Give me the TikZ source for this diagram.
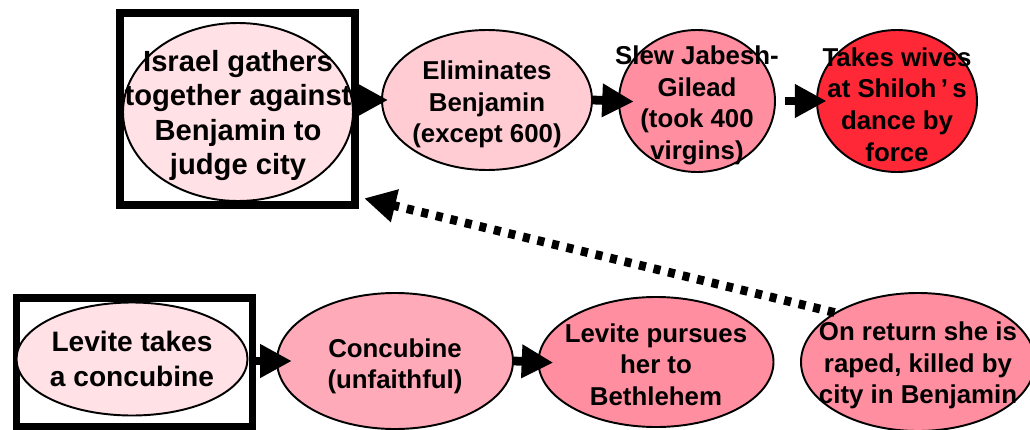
\documentclass[tikz,border=0pt]{standalone}
\usepackage{fontspec}
\setmainfont{Liberation Sans}
\usetikzlibrary{arrows.meta,shapes.geometric}
\definecolor{PINK-PALE}{RGB}{255,225,230}
\definecolor{PINK-LIGHT}{RGB}{255,204,212}
\definecolor{PINK-MID}{RGB}{255,170,184}
\definecolor{PINK-DEEP}{RGB}{255,143,160}
\definecolor{RED-HOT}{RGB}{255,40,55}

\tikzset{
  event/.style={ellipse, draw=black, line width=1.1pt, inner sep=0pt},
  caption/.style={align=center, font=\fontsize{14.7}{18}\selectfont\bfseries},
  keybox/.style={draw=black, line width=4.4pt, inner sep=0pt},
  flow/.style={line width=5pt, -{Triangle[length=18pt,width=18pt]}},
}

\begin{document}
\begin{tikzpicture}[x=0.2mm,y=-0.2mm]
  \useasboundingbox (0,0) rectangle (1030,429);

  % Top row (Israel against Benjamin)
  \node[keybox, minimum width=47mm, minimum height=38.4mm] (gatherbox) at (237.5,109) {};
  \node[event, fill=PINK-PALE, minimum width=46mm, minimum height=35.6mm] (gather) at (238,112) {};
  \node[caption, font=\fontsize{16.6}{19.5}\selectfont\bfseries] (gather-t) at ([yshift=-2pt]gather) {Israel gathers\\together against\\Benjamin to\\judge city};

  \node[event, fill=PINK-LIGHT, minimum width=42mm, minimum height=28mm] (elim) at (487,100) {};
  \node[caption] (elim-t) at ([yshift=-2.5pt]elim) {Eliminates\\Benjamin\\(except 600)};

  \node[event, fill=PINK-DEEP, minimum width=31.2mm, minimum height=28.4mm] (slew) at (697,101) {};
  \node[caption] (slew-t) at ([yshift=-2.5pt]slew) {Slew Jabesh-\\Gilead\\(took 400\\virgins)};

  \node[event, fill=RED-HOT, minimum width=32mm, minimum height=28.4mm] (wives) at (897,101) {};
  \node[caption] (wives-t) at ([yshift=-2pt]wives) {Takes wives\\at Shiloh\,’\,s\\dance by\\force};

  \draw[flow, shorten >=-4pt] (gatherbox.east |- elim.west) -- (elim.west);
  \draw[flow, shorten >=-9pt] (elim.east) -- (slew.west);
  \draw[flow, shorten <=5pt, shorten >=-6pt] (slew.east) -- (wives.west);

  % Bottom row (the Levite)
  \node[keybox, minimum width=47.2mm, minimum height=25.8mm] (levitebox) at (134.5,362.5) {};
  \node[event, fill=PINK-PALE, minimum width=46.2mm, minimum height=22.6mm] (levite) at (132,359) {};
  \node[caption, font=\fontsize{16}{20}\selectfont\bfseries] (levite-t) at (levite) {Levite takes\\a concubine};

  \node[event, fill=PINK-MID, minimum width=47.2mm, minimum height=27.2mm] (concub) at (395,361) {};
  \node[caption] (concub-t) at ([yshift=-3pt]concub) {Concubine\\(unfaithful)};

  \node[event, fill=PINK-DEEP, minimum width=47mm, minimum height=26mm] (pursue) at (656,362) {};
  \node[caption] (pursue-t) at ([yshift=-1.5pt]pursue) {Levite pursues\\her to\\Bethlehem};

  \node[event, fill=PINK-DEEP, minimum width=46.8mm, minimum height=27.6mm] (raped) at (918,362) {};
  \node[caption] (raped-t) at ([yshift=-2pt]raped) {On return she is\\raped, killed by\\city in Benjamin};

  \draw[flow, shorten >=-9pt] (levitebox.east |- concub.west) -- (concub.west);
  \draw[flow, shorten >=-9pt] (concub.east) -- (pursue.west);

  % Link back up
  \draw[flow, dash pattern=on 4pt off 4.5pt] (raped.north west) -- ([xshift=3pt,yshift=6pt]gatherbox.south east);
\end{tikzpicture}
\end{document}
